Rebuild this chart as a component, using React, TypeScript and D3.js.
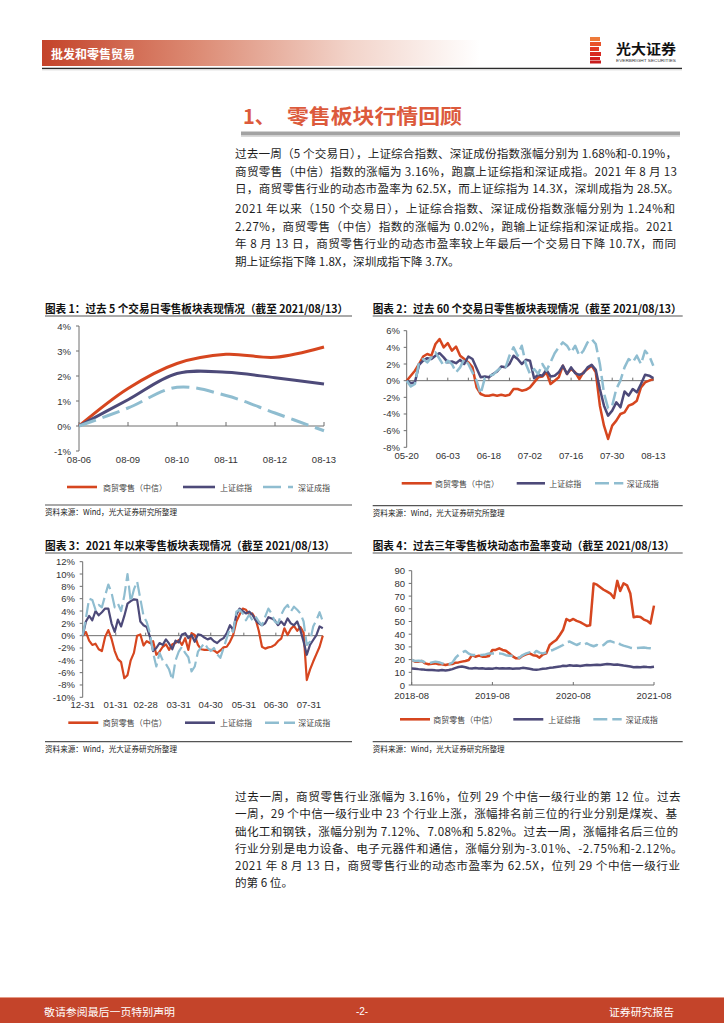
import React from 'react';
import * as d3 from 'd3';

const CJK = '"Noto Sans CJK SC","Noto Sans",sans-serif';
const LAT = '"Liberation Sans",Arial,"Noto Sans CJK SC",sans-serif';
const RED = '#d6461f';
const PURPLE = '#4d4a79';
const BLUE = '#8fbdd0';
const AXIS = '#6e6e6e';
const TXT = '#1e1e1e';

const seriesNames = ['商贸零售（中信）', '上证综指', '深证成指'];

// ---------- Chart 1: past 5 trading days (%) ----------
const c1Dates = ['08-06', '08-09', '08-10', '08-11', '08-12', '08-13'];
const c1Retail = [0, 1.5, 2.5, 2.87, 2.75, 3.16];
const c1SH = [0, 1.05, 2.1, 2.15, 1.93, 1.68];
const c1SZ = [0, 0.72, 1.55, 1.22, 0.52, -0.19];
const c1YTicks = [-1, 0, 1, 2, 3, 4];

// ---------- Chart 2: past 60 trading days (%) ----------
const c2Labels = ['05-20', '06-03', '06-18', '07-02', '07-16', '07-30', '08-13'];
const c2LabelIdx = [0, 10, 20, 30, 40, 50, 60];
const c2Retail = [0, 0.6, 1.2, 2.0, 2.9, 3.2, 3.0, 4.4, 5.0, 4.0, 4.5, 3.6, 4.1, 3.0, 2.6, 2.2, 1.6, -0.8, -1.6, -1.8,
  -1.8, -1.7, -1.8, -1.7, -1.8, -1.7, -1.0, -1.0, -1.2, -1.1, -0.8, -0.2, 0.4, 0.5, 1.0, -0.4, 0.0, 0.4, 1.8, 0.8,
  1.4, 1.0, 0.2, 1.0, 1.4, 1.8, 1.0, -3.0, -5.4, -7.0, -5.4, -4.8, -4.0, -3.8, -3.0, -2.8, -2.4, -0.8, -0.2, 0.0, 0.2];
const c2SH = [0, -0.3, -0.2, 1.9, 2.4, 2.7, 2.6, 3.0, 3.3, 2.8, 2.2, 2.3, 2.1, 2.5, 2.0, 2.9, 2.6, 1.5, 0.4, 0.5,
  0.4, 0.8, 1.1, 1.7, 1.6, 2.0, 3.0, 2.6, 2.0, 2.5, 2.4, 0.3, 0.7, 0.6, 1.3, 0.5, 0.6, 1.0, 1.8, 0.8,
  1.6, 0.9, 0.7, 0.9, 1.6, 1.9, 1.3, -1.0, -3.0, -4.2, -3.6, -2.6, -3.2, -1.3, -1.8, -1.0, -1.4, -0.4, 0.7, 0.6, 0.3];
const c2SZ = [0, -0.7, -0.4, 2.2, 2.6, 2.2, 2.8, 3.4, 2.6, 1.8, 2.4, 2.0, 1.0, 1.6, 2.6, 2.0, 1.0, 0.0, -1.6, 0.3,
  0.6, 0.7, 1.2, 1.6, 1.5, 3.0, 4.0, 3.0, 4.2, 2.0, 0.8, 1.4, 0.8, 2.0, 1.2, 2.2, 3.3, 4.0, 4.6, 4.2,
  3.4, 4.2, 3.0, 3.6, 4.6, 5.0, 4.4, 2.0, -1.5, -3.3, -3.0, -1.0, 0.0, 1.6, 2.6, 2.2, 3.0, 2.0, 3.6, 3.0, 1.8];
const c2YTicks = [-8, -6, -4, -2, 0, 2, 4, 6];

// ---------- Chart 3: since start of 2021 (%) ----------
const c3Dates = ['12-31', '01-03', '01-06', '01-09', '01-12', '01-15', '01-18', '01-21', '01-24', '01-27',
  '01-30', '02-02', '02-05', '02-08', '02-11', '02-14', '02-17', '02-20', '02-23', '02-26',
  '03-01', '03-04', '03-07', '03-10', '03-13', '03-16', '03-19', '03-22', '03-25', '03-28',
  '03-31', '04-03', '04-06', '04-09', '04-12', '04-15', '04-18', '04-21', '04-24', '04-27',
  '04-30', '05-03', '05-06', '05-09', '05-12', '05-15', '05-18', '05-21', '05-24', '05-27',
  '05-30', '06-02', '06-05', '06-08', '06-11', '06-14', '06-17', '06-20', '06-23', '06-26',
  '06-29', '07-02', '07-05', '07-08', '07-11', '07-14', '07-17', '07-20', '07-23', '07-26',
  '07-29', '08-01', '08-04', '08-07', '08-10', '08-13'];
const c3Retail = [0, 0.6, -0.8, -1.5, -1.3, -2.2, -2.5, -0.2, 0.9, -0.5,
  -2.5, -3.8, -4.3, -6.9, -6.4, -4.0, -2.8, 0.0, 0.2, -1.6,
  -0.9, -1.2, -0.9, -3.1, -2.6, -1.8, -1.4, -2.3, -1.4, -1.2,
  -0.7, -1.5, -0.4, -2.3, 0.4, 0.1, -1.5, -2.2, -2.3, -2.3,
  -2.3, -2.4, -2.8, -2.4, -1.9, -1.8, -1.0, 0.1, 2.3, 3.4,
  4.4, 4.2, 3.4, 3.6, 2.7, 0.8, -1.8, -2.1, -1.9, -1.8,
  -1.5, -0.9, -0.5, 1.2, 0.1, 1.1, 1.6, 0.8, 1.4, 0.5,
  -7.2, -5.5, -4.2, -3.0, -1.8, 0.0];
const c3SH = [0, 2.3, 3.2, 2.5, 4.0, 3.3, 3.8, 4.4, 4.4, 2.0,
  0.6, 2.6, 1.5, 3.2, 5.2, 5.6, 5.9, 5.8, 2.3, 1.7,
  1.4, -0.2, -2.5, -2.0, -1.2, -1.5, -0.6, -1.3, -2.2, -0.8,
  -1.1, 0.2, 0.4, -0.4, 0.1, -1.0, 0.2, 0.1, -0.3, -0.6,
  -0.4, -0.9, -1.2, -0.7, -0.4, 0.4, 1.7, 0.9, 3.4, 4.4,
  4.0, 3.6, 3.9, 3.4, 2.5, 2.0, 1.7, 2.0, 3.0, 2.8,
  2.5, 1.7, 2.3, 1.7, 2.8, 2.0, 1.7, 2.3, 0.9, -1.0,
  -3.1, -1.5, -0.7, 0.1, 1.5, 1.2];
const c3SZ = [0, 2.8, 6.0, 5.8, 4.2, 5.0, 4.6, 6.5, 8.3, 7.0,
  4.6, 5.2, 4.0, 6.5, 10.0, 5.5, 7.5, 8.8, 6.0, 3.2,
  2.2, 0.4, -2.8, -5.0, -2.8, -4.0, -4.6, -5.5, -7.2, -4.0,
  -2.6, -1.8, -2.8, -3.5, -5.8, -5.0, -2.6, -1.9, -1.2, -2.0,
  -2.5, -2.0, -3.0, -3.6, -2.0, -0.4, 1.2, 0.6, 3.9, 4.2,
  3.6, 2.5, 3.4, 2.5, 3.1, 2.3, 1.7, 3.1, 4.4, 3.6,
  2.3, 2.0, 3.4, 4.4, 5.0, 3.9, 4.7, 4.2, 3.6, 2.3,
  -1.5, -1.0, 1.5, 2.5, 3.8, 2.3];
const c3Ticks = ['12-31', '01-31', '02-28', '03-31', '04-30', '05-31', '06-30', '07-31'];
const c3YTicks = [-10, -8, -6, -4, -2, 0, 2, 4, 6, 8, 10, 12];

// ---------- Chart 4: PE over past three years ----------
const c4Dates = ['2018-08-13', '2018-08-28', '2018-09-13', '2018-09-28', '2018-10-13', '2018-10-28', '2018-11-13', '2018-11-28',
  '2018-12-13', '2018-12-28', '2019-01-13', '2019-01-28', '2019-02-13', '2019-02-28', '2019-03-13', '2019-03-28',
  '2019-04-13', '2019-04-28', '2019-05-13', '2019-05-28', '2019-06-13', '2019-06-28', '2019-07-13', '2019-07-28',
  '2019-08-13', '2019-08-28', '2019-09-13', '2019-09-28', '2019-10-13', '2019-10-28', '2019-11-13', '2019-11-28',
  '2019-12-13', '2019-12-28', '2020-01-13', '2020-01-28', '2020-02-13', '2020-02-28', '2020-03-13', '2020-03-28',
  '2020-04-13', '2020-04-28', '2020-05-13', '2020-05-28', '2020-06-13', '2020-06-28', '2020-07-13', '2020-07-28',
  '2020-08-13', '2020-08-28', '2020-09-13', '2020-09-28', '2020-10-13', '2020-10-28', '2020-11-13', '2020-11-28',
  '2020-12-13', '2020-12-28', '2021-01-13', '2021-01-28', '2021-02-13', '2021-02-28', '2021-03-13', '2021-03-28',
  '2021-04-13', '2021-04-28', '2021-05-13', '2021-05-28', '2021-06-13', '2021-06-28', '2021-07-13', '2021-07-28',
  '2021-08-13'];
const c4Retail = [19.7, 18.4, 18.4, 18.9, 17.0, 16.3, 16.8, 17.0, 16.3, 16.3,
  15.7, 16.3, 16.5, 17.6, 17.8, 18.4, 18.9, 19.7, 23.5, 22.3,
  23.1, 22.3, 22.3, 22.8, 27.6, 27.6, 28.9, 27.6, 27.0, 25.0,
  22.5, 21.0, 21.0, 23.0, 24.1, 24.9, 23.5, 23.1, 21.5, 24.0,
  24.9, 31.5, 33.6, 35.4, 39.4, 43.5, 52.0, 50.5, 52.0, 50.5,
  49.5, 48.0, 46.5, 47.0, 80.0, 79.0, 77.0, 75.0, 73.5, 72.0,
  68.5, 82.0, 74.0, 80.0, 78.5, 72.0, 53.3, 54.0, 53.5, 51.5,
  50.5, 48.5, 62.5];
const c4SH = [13.0, 12.8, 12.5, 12.3, 12.0, 11.8, 11.8, 11.6, 11.5, 11.8,
  11.5, 11.8, 12.5, 13.5, 14.2, 14.5, 14.0, 13.2, 13.0, 13.3,
  13.0, 13.2, 12.8, 13.0, 12.8, 13.3, 13.0, 13.2, 13.0, 13.1,
  12.8, 12.9, 13.0, 13.5, 13.2, 12.8, 12.2, 12.0, 12.3, 12.8,
  13.0, 13.5, 13.8, 14.2, 14.5, 15.2, 15.0, 15.5, 15.2, 15.3,
  15.0, 15.4, 15.8, 15.5, 15.8, 16.0, 15.7, 16.2, 16.5, 16.3,
  16.0, 16.2, 15.8, 15.3, 15.0, 14.5, 14.0, 14.2, 14.0, 14.3,
  14.1, 14.0, 14.3];
const c4SZ = [19.7, 18.9, 19.0, 18.9, 17.8, 17.0, 17.8, 18.4, 18.0, 17.0,
  16.8, 16.5, 17.6, 21.5, 23.6, 25.5, 26.8, 24.7, 23.6, 23.6,
  23.6, 23.6, 24.1, 24.9, 24.9, 24.9, 24.9, 24.5, 23.5, 23.1,
  23.0, 22.3, 21.5, 23.6, 24.9, 25.7, 24.1, 26.8, 25.5, 24.9,
  25.7, 26.8, 27.6, 28.9, 30.2, 31.5, 33.6, 34.2, 32.8, 31.5,
  32.8, 31.5, 32.8, 31.5, 30.5, 31.5, 30.2, 31.5, 34.0, 34.6,
  33.6, 34.1, 32.0, 31.0, 30.2, 29.4, 28.9, 29.2, 29.4, 29.6,
  29.2, 28.9, 28.5];
const c4Ticks = ['2018-08-13', '2019-08-13', '2020-08-13', '2021-08-13'];
const c4YTicks = [0, 10, 20, 30, 40, 50, 60, 70, 80, 90];

// ---------- text ----------
const para1 = [
  '过去一周（5 个交易日），上证综合指数、深证成份指数涨幅分别为 1.68%和-0.19%，',
  '商贸零售（中信）指数的涨幅为 3.16%，跑赢上证综指和深证成指。2021 年 8 月 13',
  '日，商贸零售行业的动态市盈率为 62.5X，而上证综指为 14.3X，深圳成指为 28.5X。',
];
const para2 = [
  '2021 年以来（150 个交易日），上证综合指数、深证成份指数涨幅分别为 1.24%和',
  '2.27%，商贸零售（中信）指数的涨幅为 0.02%，跑输上证综指和深证成指。2021',
  '年 8 月 13 日，商贸零售行业的动态市盈率较上年最后一个交易日下降 10.7X，而同',
  '期上证综指下降 1.8X，深圳成指下降 3.7X。',
];
const para3 = [
  '过去一周，商贸零售行业涨幅为 3.16%，位列 29 个中信一级行业的第 12 位。过去',
  '一周，29 个中信一级行业中 23 个行业上涨，涨幅排名前三位的行业分别是煤炭、基',
  '础化工和钢铁，涨幅分别为 7.12%、7.08%和 5.82%。过去一周，涨幅排名后三位的',
  '行业分别是电力设备、电子元器件和通信，涨幅分别为-3.01%、-2.75%和-2.12%。',
  '2021 年 8 月 13 日，商贸零售行业的动态市盈率为 62.5X，位列 29 个中信一级行业',
  '的第 6 位。',
];
const chartTitles = [
  '图表 1：过去 5 个交易日零售板块表现情况（截至 2021/08/13）',
  '图表 2：过去 60 个交易日零售板块表现情况（截至 2021/08/13）',
  '图表 3：2021 年以来零售板块表现情况（截至 2021/08/13）',
  '图表 4：过去三年零售板块动态市盈率变动（截至 2021/08/13）',
];
const sourceText = '资料来源：Wind，光大证券研究所整理';

type Pt = [number, number];

function Path({ pts, color, width, dash, curve }: { pts: Pt[]; color: string; width: number; dash?: string; curve?: any }) {
  const gen = d3.line<Pt>().curve(curve || d3.curveLinear);
  return <path d={gen(pts) || ''} fill="none" stroke={color} strokeWidth={width} strokeDasharray={dash}
    strokeLinejoin="round" />;
}

function YAxis({ x, y, ticks, fmt, labelEnd }: { x: number; y: any; ticks: number[]; fmt: (v: number) => string; labelEnd: number }) {
  return (
    <g>
      <line x1={x} x2={x} y1={y(ticks[0])} y2={y(ticks[ticks.length - 1])} stroke={AXIS} strokeWidth={1} />
      {ticks.map(t => (
        <g key={t}>
          <line x1={x - 3} x2={x} y1={y(t)} y2={y(t)} stroke={AXIS} strokeWidth={1} />
          <text x={labelEnd} y={y(t)} textAnchor="end" dominantBaseline="central" fontFamily={LAT} fontSize={9.5} fill="#333">{fmt(t)}</text>
        </g>
      ))}
    </g>
  );
}

function Legend({ y, items, dash }: { y: number; items: [number, number, number][]; dash: string }) {
  const colors = [RED, PURPLE, BLUE];
  return (
    <g>
      {items.map((it, i) => (
        <g key={i}>
          <line x1={it[0]} x2={it[1]} y1={y} y2={y} stroke={colors[i]} strokeWidth={2.6} strokeDasharray={i === 2 ? dash : undefined} />
          <text x={it[2]} y={y} dominantBaseline="central" fontFamily={CJK} fontSize={8} fill="#444">{seriesNames[i]}</text>
        </g>
      ))}
    </g>
  );
}

function Frame({ x1, x2, titleY, title, titleLen, srcY }: { x1: number; x2: number; titleY: number; title: string; titleLen: number; srcY: number }) {
  return (
    <g>
      <text x={x1} y={titleY} dominantBaseline="central" fontFamily={CJK} fontWeight="bold" fontSize={11} fill="#111"
        textLength={titleLen} lengthAdjust="spacingAndGlyphs">{title}</text>
      <line x1={x1} x2={x2} y1={titleY + 8} y2={titleY + 8} stroke="#555" strokeWidth={1.2} />
      <line x1={x1} x2={x2} y1={srcY} y2={srcY} stroke="#555" strokeWidth={1.2} />
      <text x={x1} y={srcY + 6.5} dominantBaseline="central" fontFamily={CJK} fontSize={7.8} fill="#222"
        textLength={132} lengthAdjust="spacingAndGlyphs">{sourceText}</text>
    </g>
  );
}

function Chart1() {
  const x = d3.scalePoint<string>().domain(c1Dates).range([79, 324]);
  const y = d3.scaleLinear().domain([-1, 4]).range([451, 326]);
  const data = [c1Retail, c1SH, c1SZ];
  const colors = [RED, PURPLE, BLUE];
  return (
    <g>
      <Frame x1={45} x2={352} titleY={308} title={chartTitles[0]} titleLen={303} srcY={505} />
      <YAxis x={79} y={y} ticks={c1YTicks} fmt={v => v + '%'} labelEnd={71} />
      <line x1={79} x2={324} y1={y(0)} y2={y(0)} stroke={AXIS} strokeWidth={1} />
      {c1Dates.map(d => (
        <g key={d}>
          <line x1={x(d)} x2={x(d)} y1={y(0)} y2={y(0) - 4} stroke={AXIS} />
          <text x={x(d)} y={459} textAnchor="middle" dominantBaseline="central" fontFamily={LAT} fontSize={9.5} fill="#333">{d}</text>
        </g>
      ))}
      {data.map((s, i) => (
        <Path key={i} pts={s.map((v, j) => [x(c1Dates[j]) as number, y(v)] as Pt)} color={colors[i]} width={3}
          dash={i === 2 ? '18 7' : undefined} curve={d3.curveCatmullRom.alpha(0.5)} />
      ))}
      <Legend y={487} items={[[67, 97, 103], [183, 215, 220], [263, 293, 298]]} dash="18 7" />
    </g>
  );
}

function Chart2() {
  const x = d3.scaleLinear().domain([0, 60]).range([406.7, 653.3]);
  const y = d3.scaleLinear().domain([-8, 6]).range([447.3, 330.7]);
  const data = [c2Retail, c2SH, c2SZ];
  const colors = [RED, PURPLE, BLUE];
  const minor = [5, 10, 15, 20, 25, 30, 35, 40, 45, 50, 55, 60];
  return (
    <g>
      <Frame x1={372.7} x2={682.7} titleY={308} title={chartTitles[1]} titleLen={309} srcY={505.7} />
      <YAxis x={406.7} y={y} ticks={c2YTicks} fmt={v => v + '%'} labelEnd={400} />
      <line x1={406.7} x2={653.3} y1={y(0)} y2={y(0)} stroke={AXIS} strokeWidth={1} />
      {minor.map(i => <line key={i} x1={x(i)} x2={x(i)} y1={y(0)} y2={y(0) - 3} stroke={AXIS} />)}
      {c2Labels.map((l, k) => (
        <text key={l} x={x(c2LabelIdx[k])} y={455} textAnchor="middle" dominantBaseline="central" fontFamily={LAT} fontSize={9.5} fill="#333">{l}</text>
      ))}
      {data.map((s, i) => (
        <Path key={i} pts={s.map((v, j) => [x(j), y(v)] as Pt)} color={colors[i]} width={2.5}
          dash={i === 2 ? '14 5' : undefined} />
      ))}
      <Legend y={483.3} items={[[401.7, 431.7, 435], [516.7, 545, 549.3], [595, 623.3, 626.7]]} dash="14 5" />
    </g>
  );
}

const parseMD = (s: string) => {
  const [m, d] = s.split('-').map(Number);
  return new Date(m === 12 ? 2020 : 2021, m - 1, d);
};

function Chart3() {
  const x = d3.scaleTime().domain([parseMD('12-31'), parseMD('08-13')]).range([82.7, 322.8]);
  const y = d3.scaleLinear().domain([-10, 12]).range([697.3, 561.7]);
  const data = [c3Retail, c3SH, c3SZ];
  const colors = [RED, PURPLE, BLUE];
  return (
    <g>
      <Frame x1={45} x2={352} titleY={545} title={chartTitles[2]} titleLen={290} srcY={741.7} />
      <YAxis x={82.7} y={y} ticks={c3YTicks} fmt={v => v + '%'} labelEnd={75} />
      <line x1={82.7} x2={322.8} y1={y(0)} y2={y(0)} stroke={AXIS} strokeWidth={1} />
      {c3Ticks.map(t => (
        <g key={t}>
          <line x1={x(parseMD(t))} x2={x(parseMD(t))} y1={y(0)} y2={y(0) - 3} stroke={AXIS} />
          <text x={x(parseMD(t))} y={704} textAnchor="middle" dominantBaseline="central" fontFamily={LAT} fontSize={9.5} fill="#333">{t}</text>
        </g>
      ))}
      {data.map((s, i) => (
        <Path key={i} pts={s.map((v, j) => [x(parseMD(c3Dates[j])), y(v)] as Pt)} color={colors[i]} width={2.2}
          dash={i === 2 ? '14 5' : undefined} />
      ))}
      <Legend y={722.7} items={[[68.3, 98.3, 102.7], [185, 215, 220], [265, 295, 298.3]]} dash="14 5" />
    </g>
  );
}

function Chart4() {
  const parse = d3.timeParse('%Y-%m-%d');
  const fmt = d3.timeFormat('%Y-%m');
  const x = d3.scaleTime().domain([parse('2018-08-13') as Date, parse('2021-08-13') as Date]).range([411.7, 654]);
  const y = d3.scaleLinear().domain([0, 90]).range([685, 570.7]);
  const data = [c4Retail, c4SH, c4SZ];
  const colors = [RED, PURPLE, BLUE];
  return (
    <g>
      <Frame x1={372.7} x2={682.7} titleY={545} title={chartTitles[3]} titleLen={302} srcY={741.7} />
      <YAxis x={411.7} y={y} ticks={c4YTicks} fmt={v => String(v)} labelEnd={405} />
      <line x1={411.7} x2={654} y1={y(0)} y2={y(0)} stroke={AXIS} strokeWidth={1} />
      {c4Ticks.map(t => {
        const d = parse(t) as Date;
        return (
          <g key={t}>
            <line x1={x(d)} x2={x(d)} y1={y(0)} y2={y(0) - 3} stroke={AXIS} />
            <text x={x(d)} y={695} textAnchor="middle" dominantBaseline="central" fontFamily={LAT} fontSize={9.5} fill="#333">{fmt(d)}</text>
          </g>
        );
      })}
      {data.map((s, i) => (
        <Path key={i} pts={s.map((v, j) => [x(parse(c4Dates[j]) as Date), y(v)] as Pt)} color={colors[i]} width={2.5}
          dash={i === 2 ? '14 5' : undefined} />
      ))}
      <Legend y={719.3} items={[[400, 430, 433.3], [513.3, 543.3, 548.3], [593.3, 621.7, 625.7]]} dash="14 5" />
    </g>
  );
}

function Para({ lines, ys, ends }: { lines: string[]; ys: number[]; ends: (number | null)[] }) {
  return (
    <g>
      {lines.map((l, i) => {
        const e = ends[i];
        return e == null ? (
          <text key={i} x={235} y={ys[i]} dominantBaseline="central" fontFamily={CJK} fontSize={11.6} fill={TXT}>{l}</text>
        ) : (
          <text key={i} x={235} y={ys[i]} dominantBaseline="central" fontFamily={CJK} fontSize={11.6} fill={TXT}
            textLength={e - 235} lengthAdjust="spacing">{l}</text>
        );
      })}
    </g>
  );
}

export default function App() {
  return (
    <div style={{ position: 'absolute', left: 0, top: 0 }}>
      <svg width={724} height={1024} style={{ display: 'block' }}>
        <defs>
          <linearGradient id="hdr" x1="0" x2="1" y1="0" y2="0">
            <stop offset="0" stopColor="#c4432a" />
            <stop offset="0.35" stopColor="#dc8a73" />
            <stop offset="0.7" stopColor="#f2d3c9" />
            <stop offset="1" stopColor="#ffffff" />
          </linearGradient>
        </defs>
        <rect x={0} y={0} width={724} height={1024} fill="#fff" />
        {/* header */}
        <rect x={42} y={40} width={438} height={26} fill="url(#hdr)" />
        <text x={51} y={53} dominantBaseline="central" fontFamily={CJK} fontWeight="bold" fontSize={12} fill="#fff"
          textLength={84} lengthAdjust="spacingAndGlyphs">批发和零售贸易</text>
        <line x1={42} x2={682} y1={68.3} y2={68.3} stroke="#2b2b2b" strokeWidth={1.3} />
        <line x1={42} x2={682} y1={69.8} y2={69.8} stroke="#cfcfcf" strokeWidth={1} />
        {/* logo */}
        <g>
          <rect x={590} y={37} width={10} height={4} fill="#ee7a3a" />
          <rect x={590} y={42} width={11} height={4} fill="#e8532b" />
          <rect x={590} y={47} width={9} height={4} fill="#e03a25" />
          <rect x={590} y={52} width={11} height={4} fill="#d82a22" />
          <rect x={590} y={57} width={10} height={3} fill="#d02020" />
          <rect x={590} y={60.5} width={11} height={3} fill="#c81c1c" />
          <text x={616} y={47.5} dominantBaseline="central" fontFamily={CJK} fontWeight="bold" fontSize={14} fill="#111"
            textLength={60} lengthAdjust="spacingAndGlyphs">光大证券</text>
          <text x={616} y={60.5} dominantBaseline="central" fontFamily={LAT} fontSize={4.4} fill="#333"
            textLength={60} lengthAdjust="spacingAndGlyphs">EVERBRIGHT SECURITIES</text>
        </g>
        {/* section title */}
        <text x={243} y={115} dominantBaseline="central" fontFamily={CJK} fontWeight="bold" fontSize={20} fill="#dc5a3c">1、</text>
        <text x={287} y={115} dominantBaseline="central" fontFamily={CJK} fontWeight="bold" fontSize={20} fill="#dc5a3c"
          textLength={175} lengthAdjust="spacingAndGlyphs">零售板块行情回顾</text>
        <rect x={241} y={131.5} width={439} height={4} fill="#a3a3a3" />
        <line x1={241} x2={680} y1={136.5} y2={136.5} stroke="#dadada" strokeWidth={1} />
        <Para lines={para1} ys={[153.3, 171, 188.3]} ends={[677, 677, 679]} />
        <Para lines={para2} ys={[208.3, 226, 243.3, 260.7]} ends={[675, 673, 676, null]} />
        <Chart1 />
        <Chart2 />
        <Chart3 />
        <Chart4 />
        <Para lines={para3} ys={[795.7, 813.3, 830.7, 847.7, 865, 881.7]} ends={[680.7, 677, 678, 682.7, 680, null]} />
        {/* footer */}
        <rect x={0} y={997} width={724} height={26} fill="#c4442a" />
        <line x1={0} x2={724} y1={997.5} y2={997.5} stroke="#e59a86" strokeWidth={1} />
        <text x={44} y={1011} dominantBaseline="central" fontFamily={CJK} fontSize={10.5} fill="#fff"
          textLength={131} lengthAdjust="spacingAndGlyphs">敬请参阅最后一页特别声明</text>
        <text x={362} y={1011} textAnchor="middle" dominantBaseline="central" fontFamily={LAT} fontSize={10} fill="#fff">-2-</text>
        <text x={674} y={1011} textAnchor="end" dominantBaseline="central" fontFamily={CJK} fontSize={10.5} fill="#fff"
          textLength={65} lengthAdjust="spacingAndGlyphs">证券研究报告</text>
      </svg>
    </div>
  );
}
